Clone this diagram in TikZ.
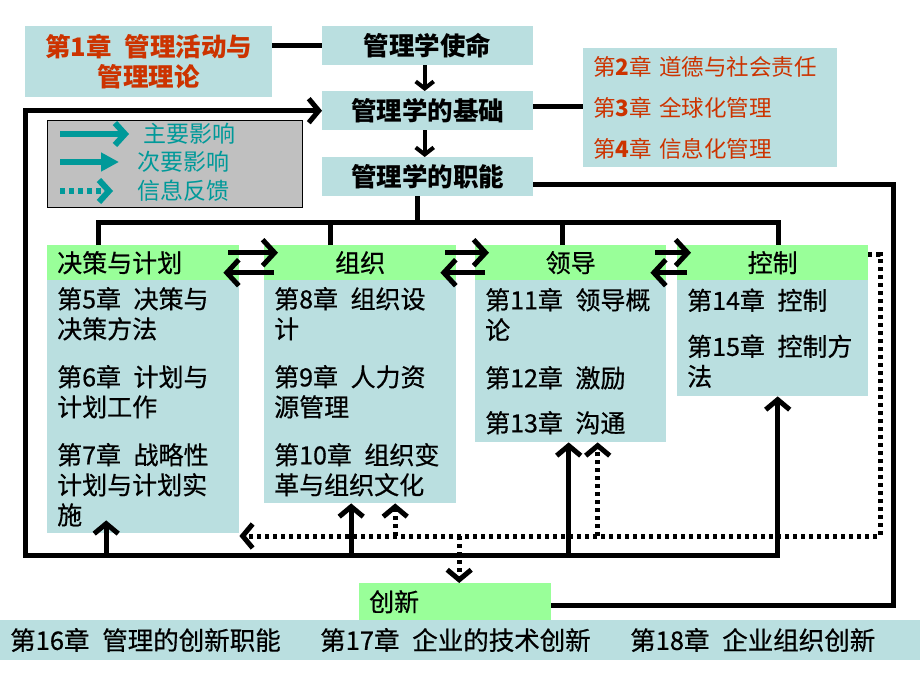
\documentclass[tikz,border=0pt]{standalone}
\usepackage{fontspec}
\setmainfont{Noto Sans CJK SC}
\newfontfamily\heiti{Noto Sans CJK SC}[FakeBold=0.6]
\usetikzlibrary{arrows.meta}
\definecolor{boxblue}{HTML}{BADFE0}
\definecolor{boxgreen}{HTML}{99FF99}
\definecolor{chapred}{HTML}{CC3300}
\definecolor{legendgray}{HTML}{C0C0C0}
\definecolor{legendteal}{HTML}{009999}
\begin{document}
\begin{tikzpicture}[x=1pt,y=-1pt,
    bluebox/.style={fill=boxblue,inner ysep=0pt,inner xsep=10pt,anchor=north west},
    greenbox/.style={fill=boxgreen,inner ysep=0pt,inner xsep=10pt,anchor=north west},
    bodyfont/.style={font=\heiti\fontsize{25pt}{30pt}\selectfont},
    titlefont/.style={font=\fontsize{25.5pt}{30pt}\selectfont\bfseries},
    conn/.style={line width=5pt,black},
    fb/.style={line width=5pt,black,dash pattern=on 4pt off 4pt},
    chev/.style={-{Straight Barb[length=10pt,width=24pt]}},
    bigchev/.style={-{Straight Barb[length=12pt,width=26pt]}},
    smallchev/.style={-{Straight Barb[length=7pt,width=18pt]}},
    bothchev/.style={{Straight Barb[length=10pt,width=24pt]}-{Straight Barb[length=10pt,width=24pt]}}]
    \useasboundingbox (0,0) rectangle (920,690);
    % top part
    \node[bluebox,minimum width=247pt,minimum height=71pt,text width=227pt,align=center,text=chapred,
        titlefont] (ch1) at (25,26) {第1章\enspace 管理活动与\\管理理论};
    \node[bluebox,minimum width=211pt,minimum height=39pt,text width=191pt,align=center,titlefont] (mission) at (322,26) {管理学使命};
    \node[bluebox,minimum width=211pt,minimum height=39pt,text width=191pt,align=center,titlefont] (base) at (322,91) {管理学的基础};
    \node[bluebox,minimum width=211pt,minimum height=39pt,text width=191pt,align=center,titlefont] (duty) at (322,157) {管理学的职能};
    \node[bluebox,minimum width=254pt,minimum height=119pt,text width=234pt,align=left,text=chapred,
        font=\fontsize{22.5pt}{41pt}\selectfont] (ch24) at (583,48)
        {第\textbf{2}章 道德与社会责任\\第\textbf{3}章 全球化管理\\第\textbf{4}章 信息化管理};
    % legend
    \node[draw=black,line width=1pt,fill=legendgray,minimum width=255pt,minimum height=87pt,
        inner sep=0pt,anchor=north west] (legend) at (47,120) {};
    \node[anchor=west,inner sep=0pt,text=legendteal,font=\fontsize{23pt}{24pt}\selectfont] (lgMain) at (143,134) {主要影响};
    \node[anchor=west,inner sep=0pt,text=legendteal,font=\fontsize{23pt}{24pt}\selectfont] (lgMinor) at (137,162) {次要影响};
    \node[anchor=west,inner sep=0pt,text=legendteal,font=\fontsize{23pt}{24pt}\selectfont] (lgFeed) at (137,191) {信息反馈};
    \draw[line width=6pt,legendteal,-{Straight Barb[length=10pt,width=22pt]}] ([xshift=-83pt]lgMain.west) -- ([xshift=-14pt]lgMain.west);
    \draw[line width=6pt,legendteal,-{Triangle[length=18pt,width=18pt]}] ([xshift=-77pt]lgMinor.west) -- ([xshift=-18pt]lgMinor.west);
    \draw[line width=6pt,legendteal,dash pattern=on 5pt off 4pt,-{Straight Barb[length=10pt,width=22pt]}] ([xshift=-77pt]lgFeed.west) -- ([xshift=-24pt]lgFeed.west);
    % the four functions
    \node[greenbox,minimum width=192pt,minimum height=35pt,text width=172pt,align=left,bodyfont] (planH) at (47,245) {决策与计划};
    \node[bluebox,minimum width=192pt,minimum height=253pt,text width=172pt,align=left,bodyfont] (planB) at (47,280)
        {第5章\enspace 决策与\\决策方法\\[18pt]第6章\enspace 计划与\\计划工作\\[18pt]第7章\enspace 战略性\\计划与计划实\\施};
    \node[greenbox,minimum width=192pt,minimum height=35pt,text width=172pt,align=center,bodyfont] (orgH) at (264,245) {组织};
    \node[bluebox,minimum width=192pt,minimum height=223pt,text width=172pt,align=left,bodyfont] (orgB) at (264,280)
        {第8章\enspace 组织设\\计\\[18pt]第9章\enspace 人力资\\源管理\\[18pt]第10章\enspace 组织变\\革与组织文化};
    \node[greenbox,minimum width=191pt,minimum height=35pt,text width=171pt,align=center,bodyfont] (leadH) at (475,245) {领导};
    \node[bluebox,minimum width=191pt,minimum height=162pt,text width=171pt,align=left,bodyfont] (leadB) at (475,280)
        {第11章\enspace 领导概\\论\\[18pt]第12章\enspace 激励\\[15pt]第13章\enspace 沟通};
    \node[greenbox,minimum width=191pt,minimum height=35pt,text width=171pt,align=center,bodyfont] (ctrlH) at (677,245) {控制};
    \node[bluebox,minimum width=191pt,minimum height=116pt,text width=171pt,align=left,bodyfont] (ctrlB) at (677,280)
        {第14章\enspace 控制\\[16pt]第15章\enspace 控制方\\法};
    % innovation
    \node[greenbox,minimum width=192pt,minimum height=37pt,text width=172pt,align=left,bodyfont] (innov) at (359,583) {创新};
    \node[bluebox,minimum width=920pt,minimum height=40pt,inner xsep=0pt] (band) at (0,620) {};
    \node[anchor=west,inner sep=0pt,font=\heiti\fontsize{25.5pt}{30pt}\selectfont] (ch16) at (10,640) {第16章\enspace 管理的创新职能};
    \node[anchor=west,inner sep=0pt,font=\heiti\fontsize{25.5pt}{30pt}\selectfont] (ch17) at (320,640) {第17章\enspace 企业的技术创新};
    \node[anchor=west,inner sep=0pt,font=\heiti\fontsize{25.5pt}{30pt}\selectfont] (ch18) at (630,640) {第18章\enspace 企业组织创新};
    % helper points
    \coordinate (topbus) at (0,222);
    \coordinate (botbus) at (0,555);
    \coordinate (leftrail) at (25,0);
    \coordinate (rightrail) at (893,0);
    \coordinate (fbcorner) at (880,536);
    \coordinate (planTop) at ([xshift=51pt]planH.north west);
    \coordinate (orgTop) at ([xshift=66pt]orgH.north west);
    \coordinate (leadTop) at ([xshift=87pt]leadH.north west);
    \coordinate (ctrlTop) at ([xshift=101pt]ctrlH.north west);
    \coordinate (planFoot) at ([shift={(-37pt,13pt)}]planB.south);
    \coordinate (orgFoot) at ([xshift=-9pt]orgB.south);
    \coordinate (leadFoot) at ([xshift=-2pt]leadB.south);
    \coordinate (ctrlFoot) at ([xshift=5pt]ctrlB.south);
    \coordinate (orgFb) at ([xshift=35pt]orgB.south);
    \coordinate (leadFb) at ([xshift=27pt]leadB.south);
    \coordinate (innFb) at ([xshift=4pt]innov.north);
    \coordinate (innR) at ([yshift=-4pt]innov.east);
    % connectors
    \draw[conn] (ch1.east |- mission.west) -- (mission.west);
    \draw[line width=4pt,smallchev] ([xshift=-3pt]mission.south) -- ([xshift=-3pt]base.north);
    \draw[line width=4pt,smallchev] ([xshift=-3pt]base.south) -- ([xshift=-3pt]duty.north);
    \draw[conn] ([yshift=4pt]base.east) -- ([yshift=4pt]base.east -| ch24.west);
    \draw[conn] ([yshift=-8pt]duty.east) -| (rightrail |- innR) -- (innR);
    \draw[conn] ([xshift=-10pt]duty.south) -- ([xshift=-10pt]duty.south |- topbus);
    \draw[conn] (planTop) |- (topbus -| ctrlTop) -- (ctrlTop);
    \draw[conn] (orgTop) -- (orgTop |- topbus);
    \draw[conn] (leadTop) -- (leadTop |- topbus);
    \draw[conn,bigchev] ([shift={(-11pt,10pt)}]planH.east) -- ([shift={(14pt,10pt)}]orgH.west);
    \draw[conn,bigchev] ([shift={(10pt,-10pt)}]orgH.west) -- ([shift={(-16pt,-10pt)}]planH.east);
    \draw[conn,bigchev] ([shift={(-11pt,10pt)}]orgH.east) -- ([shift={(14pt,10pt)}]leadH.west);
    \draw[conn,bigchev] ([shift={(10pt,-10pt)}]leadH.west) -- ([shift={(-16pt,-10pt)}]orgH.east);
    \draw[conn,bigchev] ([shift={(-11pt,10pt)}]leadH.east) -- ([shift={(14pt,10pt)}]ctrlH.west);
    \draw[conn,bigchev] ([shift={(10pt,-10pt)}]ctrlH.west) -- ([shift={(-16pt,-10pt)}]leadH.east);
    \draw[conn,bothchev] (ctrlFoot) -- (ctrlFoot |- botbus) -| (leftrail |- base.west) -- (base.west);
    \draw[conn,chev] (planFoot |- botbus) -- (planFoot);
    \draw[conn,chev] (orgFoot |- botbus) -- (orgFoot);
    \draw[conn,chev] (leadFoot |- botbus) -- (leadFoot);
    % feedback
    \draw[fb,chev] ([yshift=8pt]ctrlH.east) -| (fbcorner) -- (planB.east |- fbcorner);
    \draw[fb,chev] (orgFb |- fbcorner) -- (orgFb);
    \draw[fb,chev] (leadFb |- fbcorner) -- (leadFb);
    \draw[fb,chev] (innFb |- fbcorner) -- (innFb);
\end{tikzpicture}
\end{document}
